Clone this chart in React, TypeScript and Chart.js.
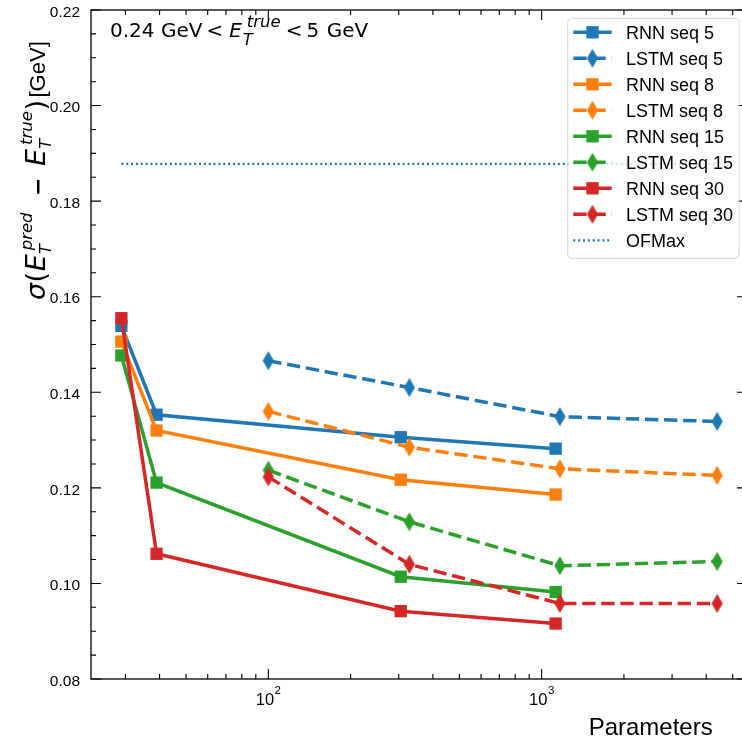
import React, { useEffect, useRef } from "react";
import { Chart, registerables } from "chart.js";

Chart.register(...registerables);

// ---------------- data ----------------
const rnnParams = [29, 39, 305, 1125];
const lstmParams = [100, 328, 1166, 4386];

const rnnSeq5 = [0.1539, 0.1353, 0.1306, 0.1282];
const lstmSeq5 = [0.1466, 0.141, 0.1349, 0.1339];
const rnnSeq8 = [0.1506, 0.132, 0.1217, 0.1186];
const lstmSeq8 = [0.136, 0.1285, 0.124, 0.1226];
const rnnSeq15 = [0.1477, 0.1211, 0.1014, 0.0982];
const lstmSeq15 = [0.1237, 0.1129, 0.1037, 0.1046];
const rnnSeq30 = [0.1555, 0.1062, 0.0942, 0.0916];
const lstmSeq30 = [0.1223, 0.104, 0.0958, 0.0958];

const ofmaxParams = [29, 4386];
const ofmaxValues = [0.1878, 0.1878];

const seqLengths = [5, 8, 15, 30];
const seqColors = ["#1f77b4", "#ff7f0e", "#2ca02c", "#d62728"];

const yTickValues = [0.08, 0.1, 0.12, 0.14, 0.16, 0.18, 0.2, 0.22];
const yTickLabels = ["0.08", "0.10", "0.12", "0.14", "0.16", "0.18", "0.20", "0.22"];
const yMinorStep = 0.005;
const xDecades = [10, 100, 1000];
const xDecadeExponents = ["1", "2", "3"];
const xMinorMultipliers = [2, 3, 4, 5, 6, 7, 8, 9];
const X_MIN = 22.45;
const X_MAX = 5640;
const Y_MIN = 0.08;
const Y_MAX = 0.22;

// ---------------- styles ----------------
const LW = 3.5;
const DASH = [13.3, 5.8];
const DOT = [2.0, 2.85];
const SANS = '"Liberation Sans", Arial, sans-serif';
const MATH = '"DejaVu Sans", sans-serif';

function makeDiamond(color: string): HTMLCanvasElement {
  const c = document.createElement("canvas");
  c.width = 12;
  c.height = 20;
  const g = c.getContext("2d")!;
  g.fillStyle = color;
  g.beginPath();
  g.moveTo(6, 0.4);
  g.lineTo(11.6, 10);
  g.lineTo(6, 19.6);
  g.lineTo(0.4, 10);
  g.closePath();
  g.fill();
  return c;
}

function txt(ctx: CanvasRenderingContext2D, t: string, font: string, x: number, y: number) {
  ctx.font = font;
  ctx.fillText(t, x, y);
  return x + ctx.measureText(t).width;
}

// E with subscript and superscript stacked; returns end x
function drawScripted(
  ctx: CanvasRenderingContext2D,
  x: number,
  y: number,
  size: number,
  scriptSize: number,
  sub: string,
  sup: string,
  subDy: number,
  supDy: number,
  subDx: number,
  supDx: number
) {
  const xe = txt(ctx, "E", `italic ${size}px ${MATH}`, x, y);
  const xs1 = txt(ctx, sub, `italic ${scriptSize}px ${MATH}`, xe + subDx, y + subDy);
  const xs2 = txt(ctx, sup, `italic ${scriptSize}px ${MATH}`, xe + supDx, y - supDy);
  return Math.max(xs1, xs2);
}

const decorPlugin = {
  id: "decor",
  afterDraw(chart: any) {
    const ctx: CanvasRenderingContext2D = chart.ctx;
    const xs = chart.scales.x;
    const ys = chart.scales.y;
    const a = chart.chartArea;
    ctx.save();

    // spines
    ctx.strokeStyle = "#000";
    ctx.lineWidth = 1.3;
    ctx.strokeRect(a.left, a.top, a.right - a.left, a.bottom - a.top);

    // y ticks (inward, both sides)
    ctx.lineWidth = 1.1;
    const nMinor = Math.round((Y_MAX - Y_MIN) / yMinorStep);
    for (let k = 0; k <= nMinor; k++) {
      const v = Y_MIN + k * yMinorStep;
      const major = k % 4 === 0;
      const len = major ? 10 : 5;
      const py = ys.getPixelForValue(v);
      ctx.beginPath();
      ctx.moveTo(a.left, py);
      ctx.lineTo(a.left + len, py);
      ctx.moveTo(a.right, py);
      ctx.lineTo(a.right - len, py);
      ctx.stroke();
    }
    // x ticks
    for (const d of xDecades) {
      for (const m of [1, ...xMinorMultipliers]) {
        const v = d * m;
        if (v < xs.min || v > xs.max) continue;
        const len = m === 1 ? 10 : 5;
        const px = xs.getPixelForValue(v);
        ctx.beginPath();
        ctx.moveTo(px, a.bottom);
        ctx.lineTo(px, a.bottom - len);
        ctx.moveTo(px, a.top);
        ctx.lineTo(px, a.top + len);
        ctx.stroke();
      }
    }

    // y tick labels
    ctx.fillStyle = "#000";
    ctx.textAlign = "left";
    ctx.textBaseline = "alphabetic";
    ctx.font = `15.5px ${SANS}`;
    yTickValues.forEach((v, i) => {
      const py = ys.getPixelForValue(v);
      const w = ctx.measureText(yTickLabels[i]).width;
      ctx.fillText(yTickLabels[i], a.left - 11 - w, py + 6.7);
    });

    // x tick labels (10^n)
    xDecades.forEach((d, i) => {
      if (d < xs.min || d > xs.max) return;
      const px = xs.getPixelForValue(d);
      ctx.font = `16.5px ${SANS}`;
      const w1 = ctx.measureText("10").width;
      ctx.font = `11.5px ${SANS}`;
      const w2 = ctx.measureText(xDecadeExponents[i]).width;
      const x0 = px - (w1 + w2 + 0.5) / 2;
      ctx.font = `16.5px ${SANS}`;
      ctx.fillText("10", x0, 705);
      ctx.font = `11.5px ${SANS}`;
      ctx.fillText(xDecadeExponents[i], x0 + w1 + 0.5, 693.5);
    });

    // x axis title
    ctx.font = `24px ${SANS}`;
    const wp = ctx.measureText("Parameters").width;
    ctx.fillText("Parameters", 712.7 - wp, 735);

    // y axis title (rotated, reading bottom to top)
    ctx.save();
    ctx.translate(45, 300);
    ctx.rotate(-Math.PI / 2);
    const S = 27;
    const SS = 16.5;
    let yx = txt(ctx, "σ", `italic ${S}px ${MATH}`, 0, 0);
    yx = txt(ctx, "(", `${S}px ${MATH}`, yx + 0.5, 0);
    drawScripted(ctx, yx + 0.5, 0, S, SS, "T", "pred", 6, 13, 0, 4);
    txt(ctx, "−", `bold 22px ${MATH}`, 104, 0);
    yx = drawScripted(ctx, 134, 0, S, SS, "T", "true", 6, 13, 0, 4);
    txt(ctx, ")", `${S}px ${MATH}`, yx + 0.5, 0);
    txt(ctx, "[GeV]", `22px ${SANS}`, 202.5, 0);
    ctx.restore();

    // annotation
    const AS = 20;
    const ASS = 16.5;
    const ay = 36.7;
    const f = `${AS}px ${MATH}`;
    let ax = txt(ctx, "0.24", f, 110, ay);
    ax = txt(ctx, "GeV", f, ax + 6.4, ay);
    ax = txt(ctx, "<", f, ax + 4, ay);
    ax = drawScripted(ctx, ax + 6, ay, AS, ASS, "T", "true", 8, 10, 1, 5);
    ax = txt(ctx, "<", f, ax + 5, ay);
    ax = txt(ctx, "5", f, ax + 4, ay);
    txt(ctx, "GeV", f, ax + 7.5, ay);

    // legend
    const lx = 567.7,
      ly = 18.3,
      lw = 171.3,
      lh = 240;
    ctx.beginPath();
    (ctx as any).roundRect(lx, ly, lw, lh, 4);
    ctx.fillStyle = "rgba(255,255,255,0.8)";
    ctx.fill();
    ctx.strokeStyle = "rgba(204,204,204,0.8)";
    ctx.lineWidth = 1;
    ctx.stroke();
    chart.data.datasets.forEach((ds: any, i: number) => {
      const ry = 32.3 + 26 * i;
      ctx.save();
      ctx.strokeStyle = ds.borderColor;
      ctx.lineWidth = ds.borderWidth;
      ctx.setLineDash(ds.borderDash || []);
      ctx.beginPath();
      ctx.moveTo(573.3, ry);
      ctx.lineTo(611.7, ry);
      ctx.stroke();
      ctx.restore();
      const mx = 592.5;
      if (ds.pointRadius > 0) {
        if (typeof ds.pointStyle === "string") {
          const h = ds.pointRadius * Math.SQRT1_2;
          ctx.fillStyle = ds.pointBackgroundColor;
          ctx.fillRect(mx - h, ry - h, 2 * h, 2 * h);
        } else {
          const img = ds.pointStyle as HTMLCanvasElement;
          ctx.drawImage(img, mx - img.width / 2, ry - img.height / 2);
        }
      }
      ctx.fillStyle = "#000";
      ctx.font = `18px ${SANS}`;
      ctx.fillText(ds.label, 626, ry + 6.6);
    });

    ctx.restore();
  },
};

export default function App() {
  const ref = useRef<HTMLCanvasElement | null>(null);

  useEffect(() => {
    const canvas = ref.current!;
    const rnnSeries = [rnnSeq5, rnnSeq8, rnnSeq15, rnnSeq30];
    const lstmSeries = [lstmSeq5, lstmSeq8, lstmSeq15, lstmSeq30];
    const datasets: any[] = [];
    seqLengths.forEach((seq, k) => {
      const color = seqColors[k];
      datasets.push({
        label: `RNN seq ${seq}`,
        data: rnnParams.map((p, i) => ({ x: p, y: rnnSeries[k][i] })),
        borderColor: color,
        backgroundColor: color,
        borderWidth: LW,
        pointStyle: "rect",
        pointRadius: 8.7,
        pointBorderWidth: 0,
        pointBackgroundColor: color,
        pointBorderColor: color,
        tension: 0,
      });
      datasets.push({
        label: `LSTM seq ${seq}`,
        data: lstmParams.map((p, i) => ({ x: p, y: lstmSeries[k][i] })),
        borderColor: color,
        backgroundColor: color,
        borderWidth: LW,
        borderDash: DASH,
        pointStyle: makeDiamond(color),
        pointRadius: 10,
        pointBorderWidth: 0,
        pointBackgroundColor: color,
        pointBorderColor: color,
        tension: 0,
      });
    });
    datasets.push({
      label: "OFMax",
      data: ofmaxParams.map((p, i) => ({ x: p, y: ofmaxValues[i] })),
      borderColor: seqColors[0],
      backgroundColor: seqColors[0],
      borderWidth: 2.2,
      borderDash: DOT,
      pointRadius: 0,
      tension: 0,
    });
    const n = datasets.length;
    datasets.forEach((d, i) => (d.order = n - i));

    const chart = new Chart(canvas, {
      type: "line",
      data: { datasets },
      options: {
        responsive: false,
        animation: false,
        devicePixelRatio: 1,
        layout: { padding: { top: 9, right: 13, left: 0, bottom: 0 } },
        plugins: { legend: { display: false }, tooltip: { enabled: false } },
        scales: {
          x: {
            type: "logarithmic",
            min: X_MIN,
            max: X_MAX,
            ticks: { display: false },
            grid: { display: false },
            border: { display: false },
            afterFit: (s: any) => {
              s.height = 63;
            },
          },
          y: {
            type: "linear",
            min: Y_MIN,
            max: Y_MAX,
            ticks: { display: false },
            grid: { display: false },
            border: { display: false },
            afterFit: (s: any) => {
              s.width = 91;
            },
          },
        },
      } as any,
      plugins: [decorPlugin],
    });
    return () => chart.destroy();
  }, []);

  return (
    <div
      style={{
        position: "absolute",
        left: 0,
        top: 0,
        width: 742,
        height: 742,
        overflow: "hidden",
        background: "#fff",
      }}
    >
      <canvas ref={ref} width={760} height={742} style={{ display: "block", width: 760, height: 742 }} />
    </div>
  );
}
